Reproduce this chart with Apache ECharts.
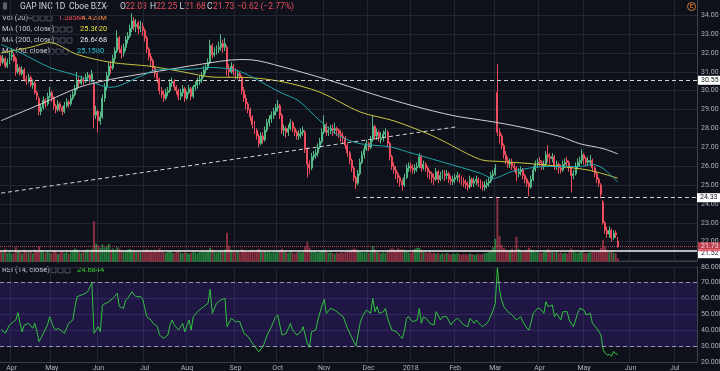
<!DOCTYPE html>
<html><head><meta charset="utf-8">
<script src="https://cdn.jsdelivr.net/npm/echarts@6/dist/echarts.min.js"></script>
<style>html,body{margin:0;padding:0;background:#0e1119}#c{width:720px;height:371px}</style>
</head><body><div id="c"></div>
<script>
// ---------- axis structure ----------
const startDate = [2017, 2, 27];
const holidays = ['2017-04-14','2017-05-29','2017-07-04','2017-09-04','2017-11-23','2017-12-25','2018-01-01','2018-01-15','2018-02-19','2018-03-30','2018-05-28','2018-07-04'];
const nCats = 330;
const monthNames = ['Jan','Feb','Mar','Apr','May','Jun','Jul','Aug','Sep','Oct','Nov','Dec'];

// ---------- data ----------
// [open, close, low, high]
const candles = [
[31.8,31.5,31.3,31.9],[31.5,31.7,31.4,31.9],[31.7,31.3,31.2,31.8],[31.3,31.5,31.2,31.7],[31.5,31.8,31.4,32.0],[31.8,31.9,31.6,32.2],[31.9,31.6,31.5,32.0],[31.7,31.0,30.8,31.8],[31.0,31.2,30.9,31.4],[31.2,30.9,30.8,31.3],
[30.9,31.1,30.8,31.3],[31.1,30.6,30.5,31.2],[30.6,30.5,30.3,30.8],[30.5,30.7,30.4,30.9],[30.7,30.3,30.2,30.8],[30.3,30.4,30.1,30.6],[30.4,29.9,29.8,30.5],[29.9,29.7,29.5,30.0],[29.6,28.9,28.7,29.7],[28.9,29.1,28.7,29.3],
[29.1,29.5,29.0,29.7],[29.5,29.3,29.1,29.6],[29.3,29.7,29.2,29.9],[29.7,29.9,29.6,30.2],[29.9,29.6,29.4,30.0],[29.6,29.2,29.0,29.7],[29.2,29.0,28.8,29.3],[29.0,29.3,28.9,29.5],[29.3,29.1,28.9,29.4],[29.1,28.9,28.7,29.2],
[28.9,29.2,28.8,29.4],[29.2,29.4,29.1,29.6],[29.4,29.3,29.1,29.5],[29.3,29.6,29.2,29.8],[29.6,29.8,29.5,30.0],[29.8,30.1,29.7,30.3],[30.1,30.5,30.0,31.0],[30.5,30.4,30.2,30.7],[30.4,30.6,30.3,30.8],[30.6,30.5,30.3,30.7],
[30.5,30.7,30.4,30.9],[30.7,30.8,30.5,31.0],[30.8,30.6,30.4,30.9],[30.6,30.9,30.5,31.1],[30.4,28.7,28.0,30.5],[28.7,28.9,28.5,29.2],[28.9,28.4,27.8,29.0],[28.4,28.6,28.2,28.9],[28.6,29.6,28.5,29.8],[29.6,30.2,29.4,30.4],
[30.2,30.8,30.0,31.0],[30.8,31.3,30.6,31.5],[31.3,31.2,30.9,31.6],[31.2,31.7,31.1,31.9],[31.7,32.1,31.5,32.3],[32.1,32.8,32.0,33.2],[32.8,32.2,32.0,32.9],[32.2,32.0,31.7,32.4],[32.0,32.3,31.8,32.5],[32.3,32.7,32.1,32.9],
[32.7,32.9,32.5,33.1],[32.9,33.3,32.8,33.5],[33.3,33.7,33.1,34.1],[33.7,33.4,33.2,33.9],[33.4,33.5,33.1,33.8],[33.6,33.3,33.0,33.7],[33.3,33.4,33.1,33.7],[33.4,33.2,32.9,33.6],[33.2,32.8,32.6,33.3],[32.8,32.2,32.0,32.9],
[32.2,31.8,31.6,32.3],[31.8,31.6,31.3,32.0],[31.6,31.2,31.0,31.7],[31.2,30.9,30.7,31.3],[30.9,30.6,30.4,31.0],[30.6,30.0,29.8,30.7],[30.0,29.8,29.6,30.2],[29.8,29.6,29.4,30.0],[29.6,29.9,29.5,30.1],[29.9,30.0,29.7,30.2],
[30.0,30.4,29.9,30.6],[30.4,30.5,30.2,30.7],[30.5,30.2,30.0,30.6],[30.2,30.0,29.8,30.3],[30.0,29.7,29.5,30.1],[29.7,29.9,29.5,30.1],[29.9,30.1,29.7,30.3],[30.1,29.6,29.4,30.2],[29.6,29.9,29.5,30.0],[29.9,30.1,29.8,30.3],
[30.1,29.7,29.5,30.2],[29.7,30.2,29.6,30.3],[30.2,30.3,30.0,30.5],[30.3,30.5,30.1,30.7],[30.5,30.6,30.3,30.8],[30.6,30.8,30.4,31.0],[30.8,31.1,30.7,31.3],[31.1,31.2,30.9,31.4],[31.2,31.5,31.1,31.7],[31.5,32.4,31.4,32.7],
[32.4,31.9,31.7,32.5],[31.9,32.0,31.8,32.3],[32.0,32.2,31.9,32.4],[32.2,32.3,32.0,32.6],[32.3,32.5,32.1,33.0],[32.5,32.3,32.0,32.7],[32.3,32.5,32.1,32.8],[32.3,31.2,30.8,32.4],[31.2,31.0,30.7,31.4],[31.0,31.3,30.9,31.5],
[31.3,31.0,30.8,31.4],[31.0,30.8,30.6,31.2],[30.8,30.9,30.6,31.1],[30.9,30.7,30.5,31.0],[30.7,30.0,29.8,30.8],[30.0,29.6,29.4,30.2],[29.6,29.3,29.0,29.8],[29.3,29.0,28.8,29.4],[29.0,28.6,28.4,29.1],[28.6,28.2,28.0,28.7],
[28.2,27.9,27.7,28.4],[27.9,27.6,27.4,28.0],[27.6,27.2,27.0,27.7],[27.2,27.6,27.1,27.8],[27.6,27.4,27.2,27.8],[27.4,27.9,27.3,28.1],[27.9,28.3,27.8,28.5],[28.3,28.5,28.1,28.7],[28.5,28.7,28.3,28.9],[28.7,28.9,28.5,29.1],
[28.9,29.1,28.7,29.3],[29.1,29.2,28.9,29.5],[29.2,28.7,28.5,29.3],[28.7,27.9,27.7,28.8],[27.9,28.0,27.6,28.2],[28.0,27.8,27.5,28.1],[27.8,28.0,27.6,28.2],[28.0,28.3,27.9,28.5],[28.3,28.0,27.8,28.4],[28.0,27.8,27.6,28.1],
[27.8,27.6,27.4,27.9],[27.6,27.7,27.4,27.9],[27.7,27.8,27.5,28.0],[27.8,27.9,27.6,28.1],[27.8,26.9,26.7,27.9],[26.9,26.1,25.4,27.0],[26.1,25.9,25.6,26.3],[25.9,26.5,25.8,26.7],[26.5,26.6,26.3,26.8],[26.6,26.7,26.4,26.9],
[26.7,27.0,26.5,27.2],[27.0,27.3,26.9,27.5],[27.3,27.8,27.2,28.0],[27.8,28.2,27.7,28.7],[28.2,27.8,27.6,28.3],[27.8,27.9,27.6,28.1],[27.9,28.0,27.7,28.2],[28.0,27.9,27.6,28.2],[27.9,28.0,27.7,28.3],[28.0,27.9,27.6,28.1],
[27.9,27.7,27.5,28.0],[27.7,27.6,27.3,27.9],[27.6,27.5,27.2,27.8],[27.5,27.1,26.9,27.6],[27.1,26.7,26.5,27.2],[26.7,26.3,26.1,26.8],[26.3,25.9,25.7,26.4],[25.9,25.4,25.2,26.0],[25.4,25.1,24.8,25.5],[25.1,25.6,25.0,25.8],
[25.6,26.2,25.5,26.4],[26.2,26.6,26.1,26.8],[26.6,26.9,26.4,27.1],[26.9,27.2,26.8,27.4],[27.2,27.0,26.8,27.3],[27.0,27.4,26.9,27.6],[27.4,28.1,27.3,28.7],[28.1,27.6,27.4,28.2],[27.6,27.8,27.4,28.0],[27.8,27.5,27.3,27.9],
[27.4,27.5,27.2,27.8],[27.5,27.7,27.3,27.9],[27.7,27.8,27.5,28.0],[27.8,27.2,27.0,27.9],[27.2,26.5,26.3,27.3],[26.5,26.0,25.8,26.6],[26.0,25.8,25.6,26.2],[25.8,25.6,25.3,26.0],[25.6,25.4,25.1,25.7],[25.4,25.2,24.9,25.5],
[25.2,25.0,24.7,25.3],[25.0,25.4,24.9,25.6],[25.4,25.9,25.3,26.1],[25.9,26.0,25.7,26.2],[26.0,25.9,25.7,26.2],[25.9,25.8,25.6,26.1],[25.8,25.9,25.6,26.1],[25.9,26.0,25.7,26.2],[26.0,26.5,25.9,26.7],[26.5,25.9,25.7,26.6],
[25.9,26.1,25.8,26.3],[26.1,25.9,25.7,26.2],[25.9,25.7,25.4,26.0],[25.7,25.6,25.3,25.8],[25.6,25.4,25.1,25.7],[25.4,25.3,25.0,25.6],[25.3,25.7,25.2,25.9],[25.7,25.3,25.1,25.8],[25.3,25.5,25.2,25.7],[25.5,25.6,25.3,25.8],
[25.6,25.5,25.2,25.8],[25.5,25.6,25.3,25.8],[25.6,25.3,25.1,25.7],[25.3,25.2,25.0,25.5],[25.2,25.3,25.0,25.5],[25.3,25.4,25.1,25.6],[25.4,25.5,25.2,25.7],[25.5,25.4,25.1,25.6],[25.4,25.2,25.0,25.5],[25.2,25.1,24.9,25.4],
[25.1,25.0,24.8,25.3],[25.0,24.9,24.7,25.2],[24.9,25.3,24.8,25.5],[25.3,25.1,24.9,25.4],[25.1,25.2,24.9,25.4],[25.2,25.3,25.0,25.5],[25.3,25.1,24.9,25.4],[25.1,25.0,24.8,25.3],[25.0,24.9,24.7,25.2],[24.9,25.0,24.7,25.2],
[25.0,25.1,24.8,25.3],[25.1,25.2,24.9,25.4],[25.2,25.5,25.1,25.7],[25.5,25.6,25.3,25.8],[25.6,25.9,25.5,26.1],[29.9,27.8,27.6,31.4],[27.8,27.6,27.2,28.0],[27.6,27.1,26.9,27.7],[27.1,26.6,26.4,27.2],[26.6,26.3,26.1,26.8],
[26.3,26.1,25.9,26.5],[26.1,26.2,25.9,26.4],[26.2,26.0,25.8,26.4],[26.0,25.9,25.7,26.2],[25.9,25.6,25.2,26.0],[25.6,25.7,25.4,25.9],[25.7,25.8,25.5,26.0],[25.8,25.5,25.3,25.9],[25.5,25.3,25.1,25.6],[25.3,25.1,24.9,25.4],
[25.1,24.9,24.4,25.2],[24.9,25.3,24.8,25.5],[25.3,25.8,25.2,26.0],[25.8,26.1,25.7,26.3],[26.1,26.2,25.9,26.4],[26.3,26.2,26.0,26.5],[26.2,26.0,25.8,26.3],[26.0,26.1,25.8,26.3],[26.1,26.6,26.0,26.8],[26.6,26.5,26.2,27.1],
[26.5,26.4,26.1,26.7],[26.4,26.5,26.2,26.7],[26.5,26.0,25.8,26.6],[26.0,26.1,25.8,26.3],[26.1,25.9,25.6,26.2],[25.9,25.8,25.6,26.1],[25.8,26.1,25.7,26.3],[26.1,26.2,25.9,26.4],[26.3,26.2,26.0,26.5],[26.2,25.9,25.7,26.3],
[25.9,25.5,24.6,26.0],[25.5,25.6,25.3,25.8],[25.6,26.0,25.5,26.2],[26.0,26.2,25.9,26.4],[26.2,26.3,26.0,26.5],[26.3,26.6,26.1,26.9],[26.6,26.4,26.1,26.7],[26.4,26.2,26.0,26.5],[26.2,26.3,26.0,26.5],[26.2,26.3,26.0,26.6],
[26.3,25.9,25.7,26.4],[25.9,25.6,25.4,26.0],[25.6,25.3,25.1,25.7],[25.3,25.1,24.9,25.4],[25.0,24.5,24.3,25.1],[24.1,23.0,22.9,24.2],[23.0,22.6,22.4,23.1],[22.6,22.4,22.2,22.8],[22.4,22.6,22.2,22.8],[22.6,22.2,22.0,22.7],
[22.2,22.45,22.1,22.6],[22.45,22.35,22.2,22.6],[22.03,21.73,21.68,22.25]
];
// volume, millions
const volumes = [
4.2,3.8,5.1,3.5,4.0,3.2,3.6,5.8,4.4,3.9,3.3,4.8,4.1,3.7,4.5,3.4,4.9,4.2,6.1,4.6,3.8,3.5,4.0,3.6,3.3,4.4,3.9,3.1,3.7,4.2,
3.5,3.9,3.2,4.1,4.6,5.2,4.8,3.9,3.6,4.2,4.4,4.9,3.8,5.1,16.2,7.2,6.5,5.4,7.0,5.6,6.1,7.1,4.9,5.3,4.7,5.8,5.2,4.6,4.1,4.5,
4.8,5.1,4.6,4.3,3.9,4.2,3.8,4.4,4.7,5.0,4.3,4.6,4.1,4.8,4.4,5.3,4.0,3.8,3.5,3.9,4.2,3.7,3.4,3.9,4.1,3.6,3.3,3.8,3.5,3.2,
3.6,4.0,3.7,3.4,3.9,4.3,4.1,3.8,4.4,5.6,4.9,4.2,3.8,4.0,4.6,4.3,4.9,11.6,6.2,4.8,4.1,3.9,4.4,3.8,5.0,4.6,4.3,3.9,4.5,4.8,
4.2,4.6,5.1,4.4,3.9,4.3,3.8,4.1,3.6,4.0,3.7,4.2,4.5,5.2,4.1,3.8,3.5,3.9,3.6,3.3,3.7,4.0,3.6,3.9,5.8,8.0,5.6,4.6,4.2,3.9,
3.6,4.1,4.4,4.8,3.9,3.5,3.8,3.4,3.2,3.6,3.3,3.9,3.5,3.8,4.2,4.6,4.9,5.3,5.0,4.4,4.1,3.8,3.6,4.0,3.5,4.2,6.3,4.8,4.0,3.7,
3.4,3.8,3.5,4.3,4.9,5.4,5.1,4.7,5.3,4.9,5.0,4.4,4.0,3.7,3.5,4.6,5.2,5.5,5.6,4.8,4.1,3.8,3.5,3.9,3.3,3.6,3.2,3.5,3.0,3.4,
3.1,3.5,3.2,2.9,3.3,3.0,3.4,3.1,2.8,3.2,3.0,2.9,3.3,3.1,2.8,3.0,3.2,2.9,3.1,3.4,3.6,3.9,4.5,5.8,9.2,26.0,10.4,6.8,5.4,4.9,
4.3,4.7,5.2,4.4,10.0,5.1,4.6,4.0,4.3,4.8,5.6,4.9,4.2,3.8,4.1,3.7,3.5,3.9,4.3,5.0,4.4,3.9,3.6,4.0,3.4,3.7,3.3,3.6,3.2,3.8,
5.2,4.3,3.7,3.4,3.9,4.2,3.6,3.3,3.5,3.8,4.1,4.4,3.9,4.6,5.5,8.8,6.0,4.5,3.8,4.2,3.6,3.3,1.385
];
// moving averages read as [bar index, value]
const ma200 = [[0,28.41],[19,29.3],[37,30.18],[52,30.6],[75,31.04],[94,31.39],[113,31.65],[119,31.63],[132,31.3],[154,30.6],[176,29.82],[195,29.2],[214,28.68],[227,28.45],[236,28.29],[250,27.98],[265,27.56],[274,27.19],[285,26.93],[292,26.65]];
const ma100 = [[0,32.0],[14,32.3],[23,32.55],[36,31.92],[52,31.5],[71,31.29],[85,31.02],[102,30.71],[113,30.71],[132,30.5],[151,29.92],[170,28.87],[186,28.4],[202,27.72],[209,27.35],[227,26.35],[236,26.25],[250,26.14],[265,25.98],[279,25.77],[292,25.36]];
const ma50 = [[0,32.44],[9,32.02],[23,31.23],[37,30.76],[47,30.29],[52,30.18],[66,30.76],[75,31.13],[89,31.13],[99,31.23],[113,31.02],[132,29.92],[141,29.45],[151,28.4],[160,27.61],[170,27.19],[184,27.03],[192,26.77],[208,26.25],[227,25.62],[233,25.35],[242,25.72],[258,25.98],[274,25.98],[280,26.09],[285,25.88],[292,25.16]];
const rsi = [[0,40.5],[2,38.0],[4,43.3],[7,46.4],[8,51.1],[9,44.3],[10,39.0],[11,43.3],[13,44.3],[15,41.2],[16,44.3],[17,39],[18,32.7],[20,38],[22,43.3],[23,48.5],[25,41.2],[26,40.1],[27,41.2],[29,39],[30,38],[32,44.3],[34,46.4],[35,54.9],[36,61.2],[38,62.2],[40,63.3],[41,64.3],[43,70.0],[44,38],[45,40.1],[46,42.2],[47,39],[48,55.9],[51,58],[53,60.1],[55,63.3],[56,54.9],[58,53.8],[59,59.1],[60,60.1],[62,64.3],[63,62.2],[64,61.2],[66,61.2],[67,60.1],[69,48.5],[71,46.4],[72,44.3],[74,42.2],[75,37],[77,34.8],[79,37],[80,43.3],[81,46.4],[82,43.3],[84,40.1],[86,44.3],[87,39],[89,46.4],[90,40.1],[91,48.5],[93,51.7],[96,54.9],[98,57],[99,65.8],[100,50.6],[102,57],[104,59.1],[106,60.1],[107,42.2],[109,47.5],[111,45.4],[113,45.4],[115,38],[117,35.9],[119,31.7],[122,26.4],[124,29.5],[126,36.9],[128,42.2],[130,48.5],[131,49.6],[133,36.9],[135,38],[137,44.3],[138,40.1],[140,36.9],[142,39],[143,42.2],[145,31.7],[146,29.1],[147,39],[149,40.1],[150,46.4],[152,55.9],[153,59.5],[154,50.6],[156,53.8],[158,52.7],[160,50.6],[162,48.5],[164,41.2],[168,30],[170,44.3],[171,48.5],[173,52.7],[175,50.6],[176,60.1],[177,51.7],[178,54.9],[179,50.6],[181,51.7],[182,53.8],[183,47.5],[185,40.1],[187,39],[188,38],[189,35.9],[190,34.8],[191,40.1],[192,47.5],[193,48.5],[194,46.4],[195,45.4],[197,46.4],[198,53.8],[199,44.3],[200,48.5],[202,46.4],[203,44.3],[205,43.3],[206,51.7],[208,46.4],[209,48.5],[211,48.5],[213,43.3],[214,45.4],[216,47.5],[217,46.4],[219,43.3],[221,42.2],[222,47.5],[224,44.3],[225,46.4],[227,43.3],[228,42.2],[230,44.3],[231,46.4],[233,52.7],[234,57],[235,79.5],[236,65.4],[237,59.1],[238,54.9],[240,51.7],[241,50.6],[242,49.6],[244,46.4],[246,48.5],[247,45.4],[249,41.2],[250,40.1],[252,50.6],[254,53.8],[255,53.8],[257,50.6],[258,58],[259,54.9],[261,55.9],[262,48.5],[263,50.6],[265,46.4],[266,51.7],[268,51.7],[269,46.4],[271,42.2],[273,50.6],[274,53.8],[276,52.7],[277,49.6],[279,50.6],[280,44.3],[282,41.2],[284,37],[285,28],[286,25.4],[287,24.2],[288,24.8],[289,23.5],[290,26.5],[291,25.2],[292,24.68]];
// drawn levels
const resistanceLevel = 30.55;
const supportLevel = 24.33, supportFrom = 168;
const lastPrice = 21.73;
const whiteLevel = 21.52;
const trendLine = [[0, 24.57], [216, 28.09]];
const rsiBands = [30, 70];

// ---------- build ----------
const cats = [];
{ const d = new Date(Date.UTC(startDate[0], startDate[1], startDate[2]));
  while (cats.length < nCats) { const wd = d.getUTCDay(); const s = d.toISOString().slice(0,10);
    if (wd !== 0 && wd !== 6 && !holidays.includes(s)) cats.push(s); d.setUTCDate(d.getUTCDate()+1); } }
const isMonthStart = i => i > 0 && cats[i].slice(5,7) !== cats[i-1].slice(5,7);
const monthLabel = s => s.slice(5,7) === '01' ? s.slice(0,4) : monthNames[+s.slice(5,7)-1];
const pairs = arr => arr.map(([t,v]) => [cats[t], v]);

const BG = '#0e1119', GRID = '#222632', AX = '#aeb1ba', UP = '#53b987', DOWN = '#eb4d5c';
const FONT = 'Roboto, sans-serif';
const chart = echarts.init(document.getElementById('c'), null, {renderer:'canvas'});

const g = [];
function txt(x, y, s, color, size) { g.push({type:'text', x, y, silent:true, style:{text:s, fill:color, font:(size||8)+'px '+FONT, verticalAlign:'middle', align:'left'}}); }
function boxes(x, y) { for (let k=0;k<3;k++) g.push({type:'rect', silent:true, shape:{x:x+k*7, y:y-2.5, width:5, height:5}, style:{fill:'none', stroke:'#5d616d', lineWidth:0.8}}); }
function chev(x, y) { g.push({type:'polyline', silent:true, shape:{points:[[x,y-1.2],[x+2,y+0.8],[x+4,y-1.2]]}, style:{stroke:'#9598a1', fill:'none', lineWidth:0.8}}); }
g.push({type:'rect', silent:true, shape:{x:3, y:2.5, width:4, height:7}, style:{fill:'#5d606b'}});
txt(20, 6.5, 'GAP INC', '#d1d4dc', 8.5); txt(55, 6.5, '1D', '#d1d4dc', 8.5); txt(69, 6.5, 'Cboe BZX', '#d1d4dc', 8.5); chev(104, 6.5);
txt(120, 6.5, 'O', '#d1d4dc', 8.5); txt(125.5, 6.5, '22.03', DOWN, 8.5);
txt(150, 6.5, 'H', '#d1d4dc', 8.5); txt(156, 6.5, '22.25', DOWN, 8.5);
txt(179.5, 6.5, 'L', '#d1d4dc', 8.5); txt(184.5, 6.5, '21.68', DOWN, 8.5);
txt(207, 6.5, 'C', '#d1d4dc', 8.5); txt(213, 6.5, '21.73', DOWN, 8.5);
txt(237, 6.5, '\u22120.62 (\u22122.77%)', DOWN, 8.5);
txt(2, 18.3, 'Vol (20)', '#c3c6ce', 7.5); chev(28.5, 18.3); boxes(33, 18.3); txt(58, 18.3, '1.385M', DOWN, 7.5); txt(81.5, 18.3, '4.428M', '#f0874a', 7.5);
txt(2, 29.5, 'MA (100, close)', '#c3c6ce', 7.5); chev(47, 29.5); boxes(53, 29.5); txt(80, 29.5, '25.3620', '#e4e13c', 7.5);
txt(2, 40.5, 'MA (200, close)', '#c3c6ce', 7.5); chev(47, 40.5); boxes(53, 40.5); txt(80, 40.5, '26.6468', '#e6e6e6', 7.5);
txt(2, 51.5, 'MA (50, close)', '#c3c6ce', 7.5); chev(42.5, 51.5); boxes(49, 51.5); txt(77, 51.5, '25.1580', '#2cc6d6', 7.5);
txt(2, 270.3, 'RSI (14, close)', '#c3c6ce', 7.5); chev(42.5, 270.3); boxes(51, 270.3); txt(77, 270.3, '24.6844', '#3ad13a', 7.5);
g.push({type:'circle', silent:true, shape:{cx:691.5, cy:6.5, r:4}, style:{fill:'none', stroke:'#e07b2c', lineWidth:1}});
g.push({type:'text', silent:true, x:691.5, y:6.7, style:{text:'E', fill:'#e07b2c', font:'bold 5px '+FONT, align:'center', verticalAlign:'middle'}});

const axLabel = (bg, fg, txtv) => ({show:true, position:'end', distance:1, formatter:txtv, color:fg, backgroundColor:bg, padding:[1,3,1,3], fontSize:7, fontFamily:FONT});
const dash = {color:'#d4d4d4', width:1, type:[4,3]};

chart.setOption({
  animation:false,
  backgroundColor:BG,
  textStyle:{fontFamily:FONT},
  graphic:g,
  grid:[
    {left:0, width:697, top:-3.67, height:264.17, outerBoundsMode:'none'},
    {left:0, width:697, top:190, height:71.7, outerBoundsMode:'none'},
    {left:0, width:697, top:266.9, height:94.9, outerBoundsMode:'none'}
  ],
  xAxis:[
    {type:'category', gridIndex:0, data:cats, axisLine:{show:false}, axisTick:{show:false}, axisLabel:{show:false},
     splitLine:{show:true, interval:(i)=>isMonthStart(i), lineStyle:{color:GRID}}},
    {type:'category', gridIndex:1, data:cats, axisLine:{show:true, lineStyle:{color:'#3e424d'}}, axisTick:{show:false}, axisLabel:{show:false}, splitLine:{show:false}},
    {type:'category', gridIndex:2, data:cats, axisLine:{show:true, lineStyle:{color:'#3a3e4a'}}, axisTick:{show:false},
     axisLabel:{show:true, interval:(i)=>isMonthStart(i), formatter:(v)=>monthLabel(v), color:AX, fontSize:7, margin:3},
     splitLine:{show:true, interval:(i)=>isMonthStart(i), lineStyle:{color:GRID}}}
  ],
  yAxis:[
    {type:'value', gridIndex:0, position:'right', min:21, max:35, interval:1, scale:true,
     axisLine:{show:true, lineStyle:{color:'#3e424d'}}, axisTick:{show:false},
     axisLabel:{color:AX, fontSize:7, margin:4, formatter:(v)=>v.toFixed(2), showMinLabel:false, showMaxLabel:false},
     splitLine:{lineStyle:{color:GRID}}},
    {type:'value', gridIndex:1, min:0, max:28.7, show:false},
    {type:'value', gridIndex:2, position:'right', min:20, max:80, interval:10,
     axisLine:{show:true, lineStyle:{color:'#3e424d'}}, axisTick:{show:false},
     axisLabel:{color:AX, fontSize:7, margin:4, formatter:(v)=>v.toFixed(4)},
     splitLine:{lineStyle:{color:'#2a2840'}}}
  ],
  series:[
    {type:'bar', name:'Vol', xAxisIndex:1, yAxisIndex:1, barWidth:'92%', silent:true,
     data: volumes.map((v,i)=>({value:v, itemStyle:{color: candles[i][1] >= candles[i][0] ? '#247a3a' : '#8a3042'}}))},
    {type:'candlestick', name:'GAP', xAxisIndex:0, yAxisIndex:0, barWidth:'70%', silent:true, data:candles,
     itemStyle:{color:UP, color0:DOWN, borderColor:UP, borderColor0:DOWN, borderWidth:1},
     markLine:{silent:true, symbol:['none','none'], animation:false, data:[
       {yAxis:resistanceLevel, lineStyle:dash, label:axLabel('#ffffff','#131722', String(resistanceLevel))},
       [{coord:[cats[supportFrom], supportLevel], lineStyle:dash, label:axLabel('#ffffff','#131722', String(supportLevel))}, {coord:[cats[nCats-1], supportLevel]}],
       [{coord:[cats[trendLine[0][0]], trendLine[0][1]], lineStyle:dash, label:{show:false}}, {coord:[cats[trendLine[1][0]], trendLine[1][1]]}],
       {yAxis:whiteLevel, lineStyle:{color:'#f2f2f2', width:1.5, type:'solid'}, label:Object.assign(axLabel('#ffffff','#131722', String(whiteLevel)), {offset:[0,3]})},
       {yAxis:lastPrice, lineStyle:{color:DOWN, width:1, type:'dotted', opacity:0.8}, label:axLabel(DOWN,'#ffffff', lastPrice.toFixed(2))}
     ]}},
    {type:'line', name:'MA200', xAxisIndex:0, yAxisIndex:0, data:pairs(ma200), showSymbol:false, smooth:0.3, silent:true, lineStyle:{color:'#cfd0d4', width:1}},
    {type:'line', name:'MA100', xAxisIndex:0, yAxisIndex:0, data:pairs(ma100), showSymbol:false, smooth:0.3, silent:true, lineStyle:{color:'#c9c640', width:1}},
    {type:'line', name:'MA50', xAxisIndex:0, yAxisIndex:0, data:pairs(ma50), showSymbol:false, smooth:0.3, silent:true, lineStyle:{color:'#1fa5ad', width:1}},
    {type:'line', name:'RSI', xAxisIndex:2, yAxisIndex:2, data:pairs(rsi), showSymbol:false, silent:true, lineStyle:{color:'#31c23f', width:1},
     markArea:{silent:true, itemStyle:{color:'rgba(88,40,200,0.24)'}, data:[[{yAxis:rsiBands[0]},{yAxis:rsiBands[1]}]]},
     markLine:{silent:true, symbol:['none','none'], label:{show:false}, lineStyle:{color:'#9a95b8', width:1, type:[4,3]},
       data:[{yAxis:rsiBands[1]},{yAxis:rsiBands[0]}]}}
  ]
});
</script></body></html>
